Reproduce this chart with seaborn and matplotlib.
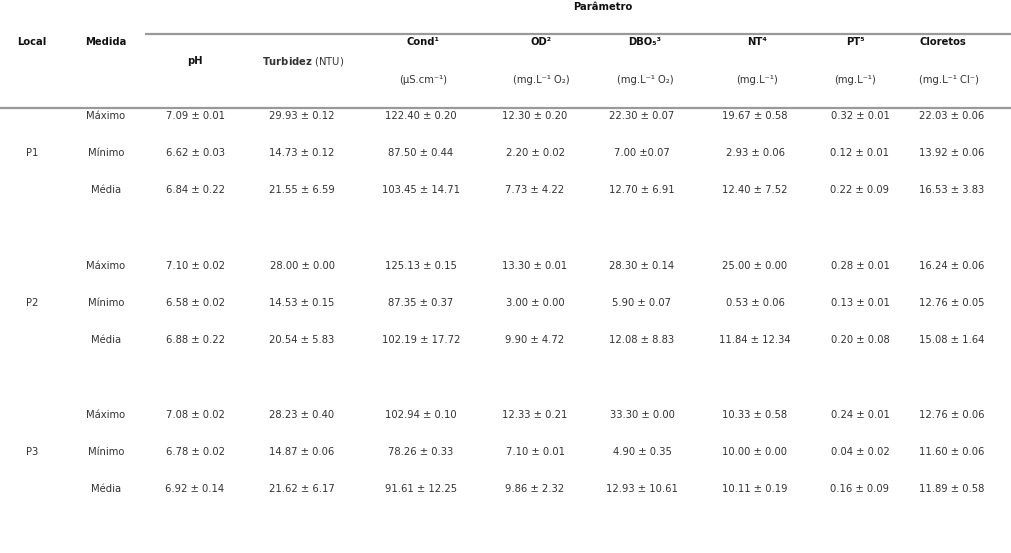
import matplotlib
matplotlib.use("Agg")
import matplotlib.pyplot as plt
import seaborn as sns

# Table content
locais = ["P1", "P2", "P3"]
medidas = ["Máximo", "Mínimo", "Média"]
param_titles = ["pH", r"$\bf{Turbidez}$ (NTU)", "Cond¹", "OD²", "DBO₅³", "NT⁴", "PT⁵", "Cloretos"]
param_units = ["", "", "(µS.cm⁻¹)", "(mg.L⁻¹ O₂)", "(mg.L⁻¹ O₂)", "(mg.L⁻¹)", "(mg.L⁻¹)", "(mg.L⁻¹ Cl⁻)"]

p1_values = [
    ["7.09 ± 0.01", "29.93 ± 0.12", "122.40 ± 0.20", "12.30 ± 0.20", "22.30 ± 0.07", "19.67 ± 0.58", "0.32 ± 0.01", "22.03 ± 0.06"],
    ["6.62 ± 0.03", "14.73 ± 0.12", "87.50 ± 0.44", "2.20 ± 0.02", "7.00 ±0.07", "2.93 ± 0.06", "0.12 ± 0.01", "13.92 ± 0.06"],
    ["6.84 ± 0.22", "21.55 ± 6.59", "103.45 ± 14.71", "7.73 ± 4.22", "12.70 ± 6.91", "12.40 ± 7.52", "0.22 ± 0.09", "16.53 ± 3.83"],
]
p2_values = [
    ["7.10 ± 0.02", "28.00 ± 0.00", "125.13 ± 0.15", "13.30 ± 0.01", "28.30 ± 0.14", "25.00 ± 0.00", "0.28 ± 0.01", "16.24 ± 0.06"],
    ["6.58 ± 0.02", "14.53 ± 0.15", "87.35 ± 0.37", "3.00 ± 0.00", "5.90 ± 0.07", "0.53 ± 0.06", "0.13 ± 0.01", "12.76 ± 0.05"],
    ["6.88 ± 0.22", "20.54 ± 5.83", "102.19 ± 17.72", "9.90 ± 4.72", "12.08 ± 8.83", "11.84 ± 12.34", "0.20 ± 0.08", "15.08 ± 1.64"],
]
p3_values = [
    ["7.08 ± 0.02", "28.23 ± 0.40", "102.94 ± 0.10", "12.33 ± 0.21", "33.30 ± 0.00", "10.33 ± 0.58", "0.24 ± 0.01", "12.76 ± 0.06"],
    ["6.78 ± 0.02", "14.87 ± 0.06", "78.26 ± 0.33", "7.10 ± 0.01", "4.90 ± 0.35", "10.00 ± 0.00", "0.04 ± 0.02", "11.60 ± 0.06"],
    ["6.92 ± 0.14", "21.62 ± 6.17", "91.61 ± 12.25", "9.86 ± 2.32", "12.93 ± 10.61", "10.11 ± 0.19", "0.16 ± 0.09", "11.89 ± 0.58"],
]
all_values = [p1_values, p2_values, p3_values]

sns.set_theme(style="white")
plt.rcParams["font.family"] = ["DejaVu Sans"]

fig = plt.figure(figsize=(10.11, 5.53), dpi=100)
ax = fig.add_axes([0, 0, 1, 1])
ax.set_xlim(0, 1011)
ax.set_ylim(553, 0)
ax.axis("off")

fs = 7.2
black = "#111111"
gray = "#333333"
line_col = "#999999"

# layout (pixel positions)
col_x = [195, 302, 421, 535, 642, 755, 860, 919]
head_x = [195, 303, 423, 541, 645, 757, 855, 919]
block_y = [116, 266, 415]
row_gap = 37.2

# header
ax.text(603, 6.5, "Parâmetro", ha="center", va="center", fontsize=fs, fontweight="bold", color=black)
ax.text(32, 42, "Local", ha="center", va="center", fontsize=fs, fontweight="bold", color=black)
ax.text(106, 42, "Medida", ha="center", va="center", fontsize=fs, fontweight="bold", color=black)
for i, (t, u) in enumerate(zip(param_titles, param_units)):
    ha = "left" if i == len(param_titles) - 1 else "center"
    if u == "":
        # Turbidez carries its own bold part through mathtext
        weight = "normal" if "$" in t else "bold"
        col = gray if "$" in t else black
        ax.text(head_x[i], 61, t, ha=ha, va="center", fontsize=fs, fontweight=weight, color=col)
    else:
        ax.text(head_x[i], 42, t, ha=ha, va="center", fontsize=fs, fontweight="bold", color=black)
        ax.text(head_x[i], 80, u, ha=ha, va="center", fontsize=fs, color=gray)

# rule lines
ax.plot([145, 1011], [33.5, 33.5], color=line_col, lw=1.6, solid_capstyle="butt")
ax.plot([0, 1011], [107.5, 107.5], color=line_col, lw=1.6, solid_capstyle="butt")

# body
for b, local in enumerate(locais):
    y0 = block_y[b]
    ax.text(32, y0 + row_gap, local, ha="center", va="center", fontsize=fs, color=gray)
    for r, med in enumerate(medidas):
        y = y0 + r * row_gap
        ax.text(106, y, med, ha="center", va="center", fontsize=fs, color=gray)
        for c, val in enumerate(all_values[b][r]):
            ha = "left" if c == len(col_x) - 1 else "center"
            ax.text(col_x[c], y, val, ha=ha, va="center", fontsize=fs, color=gray)

fig.savefig("out.png", dpi=100, facecolor="white")
